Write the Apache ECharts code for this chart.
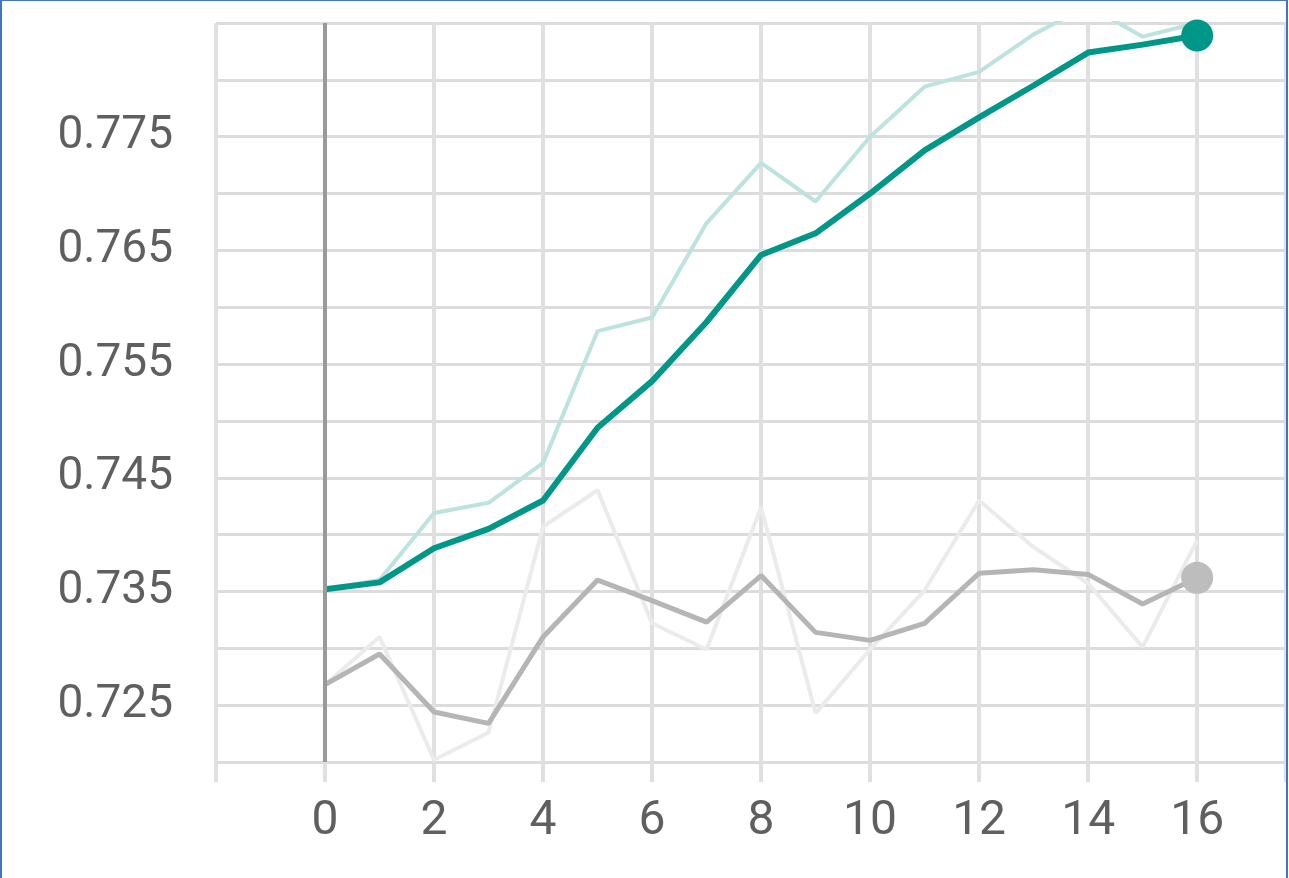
<!DOCTYPE html>
<html>
<head>
<meta charset="utf-8">
<script src="https://cdn.jsdelivr.net/npm/echarts@6/dist/echarts.min.js"></script>
<style>
  html, body { margin: 0; padding: 0; background: #fff; }
  .wrap { position: relative; width: 1289px; height: 878px; overflow: hidden; }
  #chart { width: 1289px; height: 878px; }
  .edge { position: absolute; background: #4472c4; }
  .edge.top { left: 0; top: 0; width: 1289px; height: 1px; }
  .edge.left { left: 0; top: 0; width: 2px; height: 878px; }
  .edge.right { left: 1286px; top: 0; width: 2px; height: 878px; }
  .edge.pad { left: 1288px; top: 0; width: 1px; height: 878px; background: #fff; }
</style>
</head>
<body>
<div class="wrap">
  <div id="chart"></div>
  <div class="edge top"></div>
  <div class="edge left"></div>
  <div class="edge pad"></div>
  <div class="edge right"></div>
</div>
<script>
// steps on the x axis
const steps = [0, 1, 2, 3, 4, 5, 6, 7, 8, 9, 10, 11, 12, 13, 14, 15, 16]
// teal run: smoothed + raw
const tealSmooth = [0.7352, 0.7358, 0.7388, 0.7405, 0.7430, 0.7494, 0.7535, 0.7587, 0.7646, 0.7665, 0.7700, 0.7738, 0.7767, 0.7795, 0.7824, 0.7831, 0.7839]
const tealRaw = [0.7352, 0.7360, 0.7419, 0.7428, 0.7463, 0.7579, 0.7591, 0.7674, 0.7727, 0.7693, 0.7750, 0.7794, 0.7807, 0.7840, 0.7865, 0.7838, 0.7850]
// gray run: smoothed + raw
const graySmooth = [0.7268, 0.7295, 0.7244, 0.7234, 0.7310, 0.7360, 0.7342, 0.7323, 0.7364, 0.7314, 0.7307, 0.7322, 0.7366, 0.7369, 0.7365, 0.7339, 0.7362]
const grayRaw = [0.7268, 0.7310, 0.7202, 0.7226, 0.7407, 0.7439, 0.7322, 0.7299, 0.7424, 0.7243, 0.7299, 0.7351, 0.7430, 0.7389, 0.7357, 0.7301, 0.7395]

const pairs = (ys) => steps.map((s, i) => [s, ys[i]])
const last = (ys) => [[steps[steps.length - 1], ys[ys.length - 1]]]

const chart = echarts.init(document.getElementById('chart'))

const gridLine = { color: '#dcdcdc', width: 3 }
const vLine = { color: '#e0e0e0', width: 4 }

chart.setOption({
  animation: false,
  grid: { left: 216, top: 23, bottom: 116, right: 1 },
  xAxis: {
    type: 'value',
    min: -2,
    max: 17.63,
    interval: 2,
    axisLine: { show: false },
    axisTick: { show: true, length: 20, lineStyle: vLine },
    splitLine: { show: true, lineStyle: vLine },
    axisLabel: {
      margin: 36,
      color: '#5f5f5f',
      fontFamily: 'Roboto',
      fontSize: 48,
      formatter: function (v) {
        return (v < 0 || v > 16) ? '' : String(v)
      }
    }
  },
  yAxis: {
    type: 'value',
    min: 0.72,
    max: 0.785,
    interval: 0.005,
    axisLine: { show: false },
    axisTick: { show: true, length: 22, lineStyle: gridLine },
    splitLine: { show: true, lineStyle: gridLine },
    axisLabel: {
      margin: 43,
      color: '#5f5f5f',
      fontFamily: 'Roboto',
      fontSize: 46,
      formatter: function (v) {
        const k = Math.round(v * 1000)
        return (k % 10 === 5 && k < 780) ? (k / 1000).toFixed(3) : ''
      }
    }
  },
  series: [
    {
      type: 'line',
      data: pairs(tealRaw),
      symbol: 'none',
      lineStyle: { color: '#bde3df', width: 4 },
      z: 1,
      markLine: {
        silent: true,
        symbol: 'none',
        label: { show: false },
        lineStyle: { color: '#9a9a9a', width: 4, type: 'solid' },
        data: [{ xAxis: 0 }]
      }
    },
    {
      type: 'line',
      data: pairs(grayRaw),
      symbol: 'none',
      lineStyle: { color: '#ebebeb', width: 4 },
      z: 1
    },
    {
      type: 'line',
      data: pairs(graySmooth),
      symbol: 'none',
      lineStyle: { color: '#b5b5b5', width: 5 },
      z: 2
    },
    {
      type: 'line',
      data: pairs(tealSmooth),
      symbol: 'none',
      lineStyle: { color: '#009688', width: 6 },
      z: 3
    },
    {
      type: 'scatter',
      data: last(graySmooth),
      symbolSize: 32,
      itemStyle: { color: '#bdbdbd', opacity: 1 },
      z: 4
    },
    {
      type: 'scatter',
      data: last(tealSmooth),
      symbolSize: 32,
      itemStyle: { color: '#009688', opacity: 1 },
      z: 4
    }
  ]
})
</script>
</body>
</html>
